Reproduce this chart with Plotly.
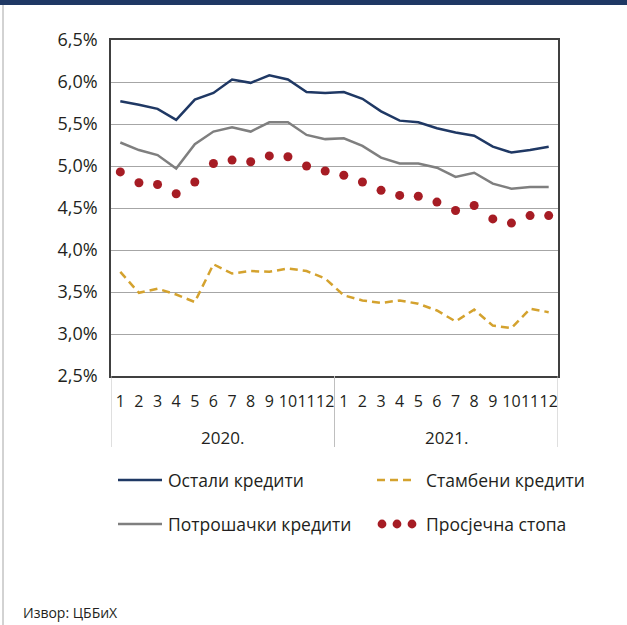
import plotly.graph_objects as go

# ---- data ----
months = ["1", "2", "3", "4", "5", "6", "7", "8", "9", "10", "11", "12"] * 2
years = ["2020.", "2021."]

ostali = [5.77, 5.73, 5.68, 5.55, 5.79, 5.87, 6.03, 5.99, 6.08, 6.03, 5.88, 5.87,
          5.88, 5.80, 5.65, 5.54, 5.52, 5.45, 5.40, 5.36, 5.23, 5.16, 5.19, 5.23]
potrosacki = [5.28, 5.19, 5.13, 4.97, 5.26, 5.41, 5.46, 5.41, 5.52, 5.52, 5.37, 5.32,
              5.33, 5.24, 5.10, 5.03, 5.03, 4.98, 4.87, 4.92, 4.79, 4.73, 4.75, 4.75]
stambeni = [3.74, 3.49, 3.54, 3.47, 3.38, 3.83, 3.72, 3.75, 3.74, 3.78, 3.75, 3.66,
            3.46, 3.40, 3.37, 3.40, 3.36, 3.28, 3.15, 3.29, 3.10, 3.07, 3.30, 3.26]
prosjecna = [4.93, 4.80, 4.78, 4.67, 4.81, 5.03, 5.07, 5.05, 5.12, 5.11, 5.00, 4.94,
             4.89, 4.81, 4.71, 4.65, 4.64, 4.57, 4.47, 4.53, 4.37, 4.32, 4.41, 4.41]

series_names = ["Остали кредити", "Стамбени кредити", "Потрошачки кредити", "Просјечна стопа"]
y_ticks = [2.5, 3.0, 3.5, 4.0, 4.5, 5.0, 5.5, 6.0, 6.5]
y_ticktext = [f"{v:.1f}%".replace(".", ",") for v in y_ticks]
source = "Извор: ЦББиХ"

# ---- styles ----
NAVY = "#1f3864"
GRAY = "#7f7f7f"
GOLD = "#d4a22e"
RED = "#a61c24"
TXT = "#231f20"
FONT = "Open Sans"

W, H = 627, 625
L, R, T, B = 111, 69, 40, 249
PW, PH = W - L - R, H - T - B


def px(x):
    return (x - L) / PW


def py(y):
    return (H - B - y) / PH


x = list(range(len(months)))

fig = go.Figure()
fig.add_trace(go.Scatter(x=x, y=ostali, mode="lines", line=dict(color=NAVY, width=2.5),
                         name=series_names[0], showlegend=False))
fig.add_trace(go.Scatter(x=x, y=potrosacki, mode="lines", line=dict(color=GRAY, width=2.5),
                         name=series_names[2], showlegend=False))
fig.add_trace(go.Scatter(x=x, y=stambeni, mode="lines",
                         line=dict(color=GOLD, width=2.5, dash="8px,5px"),
                         name=series_names[1], showlegend=False))
fig.add_trace(go.Scatter(x=x, y=prosjecna, mode="markers",
                         marker=dict(color=RED, size=9, line=dict(width=0)),
                         name=series_names[3], showlegend=False))

shapes = []
annotations = []

# top dark band and left border
shapes.append(dict(type="rect", xref="paper", yref="paper", x0=px(0), x1=px(W),
                   y0=py(5), y1=py(-2), fillcolor=NAVY, line=dict(width=0), layer="above"))
shapes.append(dict(type="line", xref="paper", yref="paper", x0=px(3), x1=px(3),
                   y0=py(5), y1=py(H), line=dict(color="#a6a6a6", width=1)))

# group dividers under x axis
for xv in [-0.5, 11.5, 23.5]:
    shapes.append(dict(type="line", xref="x", yref="paper", x0=xv, x1=xv,
                       y0=0, y1=py(447), line=dict(color="#bfbfbf", width=1)))

# year labels
for i, yr in enumerate(years):
    annotations.append(dict(x=5.5 + 12 * i, y=py(437), xref="x", yref="paper", text=yr,
                            showarrow=False, xanchor="center", yanchor="middle",
                            font=dict(family=FONT, size=17, color=TXT)))

# manual legend
r1, r2 = 480, 524
shapes.append(dict(type="line", xref="paper", yref="paper", x0=px(118), x1=px(162),
                   y0=py(r1), y1=py(r1), line=dict(color=NAVY, width=2.5)))
shapes.append(dict(type="line", xref="paper", yref="paper", x0=px(118), x1=px(162),
                   y0=py(r2), y1=py(r2), line=dict(color=GRAY, width=2.5)))
shapes.append(dict(type="line", xref="paper", yref="paper", x0=px(377), x1=px(416),
                   y0=py(r1), y1=py(r1), line=dict(color=GOLD, width=2.5, dash="8px,5px")))
rad = 4.4
for cx in [382, 397, 412]:
    shapes.append(dict(type="circle", xref="paper", yref="paper",
                       x0=px(cx - rad), x1=px(cx + rad), y0=py(r2 + rad), y1=py(r2 - rad),
                       fillcolor=RED, line=dict(width=0)))
legend_text = [(166, r1, series_names[0]), (424, r1, series_names[1]),
               (166, r2, series_names[2]), (424, r2, series_names[3])]
for lx, ly, t in legend_text:
    annotations.append(dict(x=px(lx), y=py(ly), xref="paper", yref="paper", text=t,
                            showarrow=False, xanchor="left", yanchor="middle",
                            font=dict(family=FONT, size=17.5, color=TXT)))

# source
annotations.append(dict(x=px(21), y=py(612), xref="paper", yref="paper", text=source,
                        showarrow=False, xanchor="left", yanchor="middle",
                        font=dict(family=FONT, size=14, color=TXT)))

fig.update_layout(
    width=W, height=H,
    margin=dict(l=L, r=R, t=T, b=B, pad=0),
    paper_bgcolor="white", plot_bgcolor="white",
    showlegend=False,
    shapes=shapes, annotations=annotations,
    font=dict(family=FONT, color=TXT),
    xaxis=dict(range=[-0.5, 23.5], tickmode="array", tickvals=x, ticktext=months,
               showgrid=False, zeroline=False, showline=True, linecolor="#404040",
               linewidth=1.5, mirror=True, ticks="", ticklabelstandoff=10, tickangle=0,
               tickfont=dict(family=FONT, size=16, color=TXT), fixedrange=True),
    yaxis=dict(range=[2.5, 6.5], tickmode="array", tickvals=y_ticks, ticktext=y_ticktext,
               showgrid=True, gridcolor="#a6a6a6", gridwidth=1, zeroline=False,
               showline=True, linecolor="#404040", linewidth=1.5, mirror=True,
               ticks="", ticklabelstandoff=8,
               tickfont=dict(family=FONT, size=18, color=TXT), fixedrange=True),
)

fig.write_html("out.html", config={"displayModeBar": False},
               post_script="document.body.style.margin='0';document.body.style.padding='0';")
